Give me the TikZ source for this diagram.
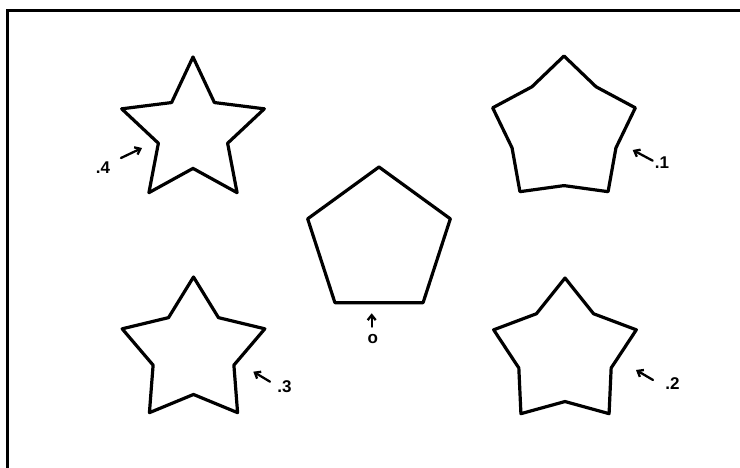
\documentclass[tikz,border=0pt]{standalone}
\usepackage{fontspec}
\setmainfont{Liberation Sans}
\usetikzlibrary{arrows.meta}
\tikzset{
  shp/.style={line width=3.2pt, line join=round, line cap=round},
  frame/.style={line width=3pt},
  ptr/.style={line width=2.3pt, -{Straight Barb[length=5pt,width=8pt,line width=2.3pt]}, line cap=round},
  lbl/.style={font=\fontsize{17}{17}\selectfont\bfseries, inner sep=0pt}
}
\newcommand{\starshape}[3]{% cx, cy, k
  \pgfmathsetmacro{\Rr}{75}
  \pgfmathsetmacro{\rr}{75*cos(36)*(1-#3)}
  \draw[shp] ({#1+\Rr*cos(90)},{#2+\Rr*sin(90)})
    \foreach \i in {0,...,4} {
      -- ({#1+\rr*cos(126+72*\i)},{#2+\rr*sin(126+72*\i)})
      -- ({#1+\Rr*cos(162+72*\i)},{#2+\Rr*sin(162+72*\i)})
    } -- cycle;
}
\begin{document}
\begin{tikzpicture}[x=1pt,y=1pt]
\useasboundingbox (0,0) rectangle (740,468);
% frame (top and left edges visible)
\coordinate (fbl) at (7.5,0);
\coordinate (ftl) at (7.5,457.5);
\coordinate (ftr) at (740,457.5);
\draw[frame] (fbl) -- (ftl) -- (ftr);

% shapes (y = 468 - pixel y)
\starshape{379}{226}{0}
\starshape{564}{337}{0.1}
\starshape{565}{115}{0.2}
\starshape{193.5}{116}{0.3}
\starshape{193}{336}{0.4}

% labels and pointers
\node[lbl] (l0) at (372.7,128.7) {o};
\coordinate (t0a) at (371.7,141.3);
\coordinate (t0b) at (371.7,154.7);
\draw[ptr] (t0a) -- (t0b);

\node[lbl] (l1) at (662,305) {.1};
\coordinate (t1a) at (652.7,307.3);
\coordinate (t1b) at (632.7,318);
\draw[ptr] (t1a) -- (t1b);

\node[lbl] (l2) at (672.5,84.3) {.2};
\coordinate (t2a) at (653,88);
\coordinate (t2b) at (636,98);
\draw[ptr] (t2a) -- (t2b);

\node[lbl] (l3) at (284.5,81) {.3};
\coordinate (t3a) at (270,86.3);
\coordinate (t3b) at (253.3,96.3);
\draw[ptr] (t3a) -- (t3b);

\node[lbl] (l4) at (103,300) {.4};
\coordinate (t4a) at (121,310);
\coordinate (t4b) at (142,320);
\draw[ptr] (t4a) -- (t4b);
\end{tikzpicture}
\end{document}
